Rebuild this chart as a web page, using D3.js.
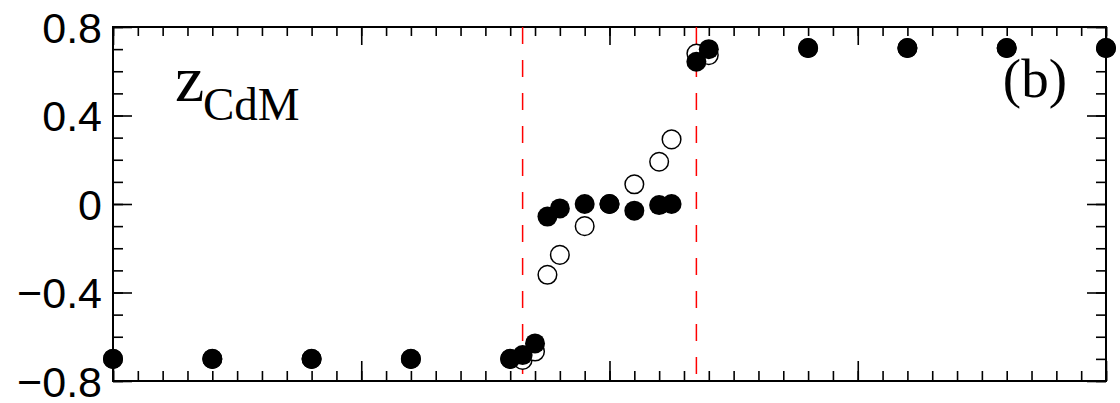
<!DOCTYPE html>
<html>
<head>
<meta charset="utf-8">
<script src="https://cdn.jsdelivr.net/npm/d3@7"></script>
<style>
  body { margin: 0; background: #fff; }
  .axis path { display: none; }
  .axis line { stroke: #000; stroke-width: 1.6; }
  .axis text { font-family: "Liberation Sans", Arial, sans-serif; font-size: 43px; fill: #000; }
</style>
</head>
<body>
<div id="graph"></div>
<script>
// x positions of the points (same for both series)
var xVals = [0, 0.4, 0.8, 1.2, 1.6, 1.65, 1.7, 1.75, 1.8, 1.9, 2.0, 2.1, 2.2, 2.25, 2.35, 2.4, 2.8, 3.2, 3.6, 4.0]
// filled circles
var filledVals = [-0.70, -0.70, -0.70, -0.70, -0.70, -0.683, -0.63, -0.057, -0.02, 0.0, 0.0, -0.03, -0.005, 0.0, 0.643, 0.70, 0.705, 0.705, 0.705, 0.705]
// open circles
var openVals = [-0.70, -0.70, -0.70, -0.70, -0.70, -0.705, -0.667, -0.32, -0.23, -0.10, 0.0, 0.089, 0.191, 0.292, 0.68, 0.673, 0.705, 0.705, 0.705, 0.705]
// red dashed boundaries
var boundaries = [1.65, 2.35]
var yTicks = [-0.8, -0.4, 0, 0.4, 0.8]
var yTickLabels = ["\u22120.8", "\u22120.4", "0", "0.4", "0.8"]
var xTicks = [0, 1, 2, 3, 4]

var w = 1120, h = 403
// frame edges (note: "top" is reserved on window, so px* names)
var pxL = 113, pxR = 1106, pxT = 27, pxB = 381

var xs = d3.scaleLinear().domain([0, 4]).range([pxL, pxR])
var ys = d3.scaleLinear().domain([-0.8, 0.8]).range([pxB, pxT])

var xMinor = d3.range(0, 41).map(function(i) { return i / 10 })
var yMinor = d3.range(-8, 9).map(function(i) { return i / 10 })

var svg = d3.select("#graph")
    .append("svg")
        .attr("width", w)
        .attr("height", h)

// minor ticks
svg.append("g").attr("class", "axis").attr("transform", "translate(0," + pxB + ")")
    .call(d3.axisBottom(xs).tickValues(xMinor).tickSize(-10).tickFormat(""))
svg.append("g").attr("class", "axis").attr("transform", "translate(0," + pxT + ")")
    .call(d3.axisTop(xs).tickValues(xMinor).tickSize(-9).tickFormat(""))
svg.append("g").attr("class", "axis").attr("transform", "translate(" + pxL + ",0)")
    .call(d3.axisLeft(ys).tickValues(yMinor).tickSize(-10).tickFormat(""))
svg.append("g").attr("class", "axis").attr("transform", "translate(" + pxR + ",0)")
    .call(d3.axisRight(ys).tickValues(yMinor).tickSize(-10).tickFormat(""))

// major ticks
svg.append("g").attr("class", "axis").attr("transform", "translate(0," + pxB + ")")
    .call(d3.axisBottom(xs).tickValues(xTicks).tickSize(-20).tickFormat(""))
svg.append("g").attr("class", "axis").attr("transform", "translate(0," + pxT + ")")
    .call(d3.axisTop(xs).tickValues(xTicks).tickSize(-18).tickFormat(""))
svg.append("g").attr("class", "axis").attr("transform", "translate(" + pxL + ",0)")
    .call(d3.axisLeft(ys).tickValues(yTicks).tickSize(-19).tickPadding(11)
        .tickFormat(function(d, i) { return yTickLabels[i] }))
svg.append("g").attr("class", "axis").attr("transform", "translate(" + pxR + ",0)")
    .call(d3.axisRight(ys).tickValues(yTicks).tickSize(-19).tickFormat(""))

svg.selectAll(".axis text").attr("dy", "0.36em")

// frame
svg.append("rect")
    .attr("x", pxL)
    .attr("y", pxT)
    .attr("width", pxR - pxL)
    .attr("height", pxB - pxT)
    .attr("fill", "none")
    .attr("stroke", "#000")
    .attr("stroke-width", 2)

// dashed lines
svg.selectAll("line.bound")
    .data(boundaries)
    .enter()
    .append("line")
        .attr("class", "bound")
        .attr("x1", function(d) { return xs(d) })
        .attr("x2", function(d) { return xs(d) })
        .attr("y1", pxT)
        .attr("y2", pxB)
        .attr("stroke", "#ff0000")
        .attr("stroke-width", 1.5)
        .attr("stroke-dasharray", "17,16")

// open circles first, filled on top
svg.selectAll("circle.open")
    .data(openVals)
    .enter()
    .append("circle")
        .attr("class", "open")
        .attr("cx", function(d, i) { return xs(xVals[i]) })
        .attr("cy", function(d) { return ys(d) })
        .attr("r", 9.3)
        .attr("fill", "#fff")
        .attr("stroke", "#000")
        .attr("stroke-width", 1.5)

svg.selectAll("circle.filled")
    .data(filledVals)
    .enter()
    .append("circle")
        .attr("class", "filled")
        .attr("cx", function(d, i) { return xs(xVals[i]) })
        .attr("cy", function(d) { return ys(d) })
        .attr("r", 10)
        .attr("fill", "#000")

// labels
svg.append("text")
    .attr("x", 175)
    .attr("y", 101)
    .attr("font-family", "Liberation Serif, Times New Roman, serif")
    .attr("font-size", 66)
    .text("z")
svg.append("text")
    .attr("x", 203)
    .attr("y", 120)
    .attr("font-family", "Liberation Serif, Times New Roman, serif")
    .attr("font-size", 47)
    .text("CdM")

svg.append("text")
    .attr("x", 1067)
    .attr("y", 97)
    .attr("text-anchor", "end")
    .attr("font-family", "Liberation Serif, Times New Roman, serif")
    .attr("font-size", 55)
    .text("(b)")
</script>
</body>
</html>
